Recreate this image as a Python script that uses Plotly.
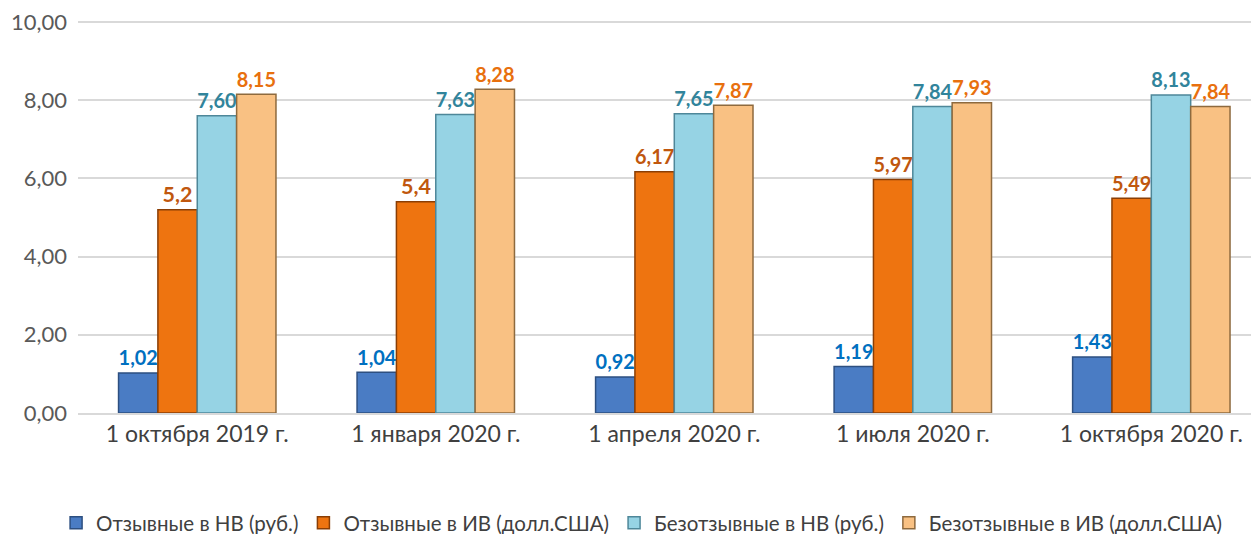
import plotly.graph_objects as go

categories = ["1 октября 2019 г.", "1 января 2020 г.", "1 апреля 2020 г.", "1 июля 2020 г.", "1 октября 2020 г."]
series_names = ["Отзывные в НВ (руб.)", "Отзывные в ИВ (долл.США)", "Безотзывные в НВ (руб.)", "Безотзывные в ИВ (долл.США)"]
otz_nv = [1.02, 1.04, 0.92, 1.19, 1.43]
otz_iv = [5.2, 5.4, 6.17, 5.97, 5.49]
bez_nv = [7.60, 7.63, 7.65, 7.84, 8.13]
bez_iv = [8.15, 8.28, 7.87, 7.93, 7.84]
labels_otz_nv = ["1,02", "1,04", "0,92", "1,19", "1,43"]
labels_otz_iv = ["5,2", "5,4", "6,17", "5,97", "5,49"]
labels_bez_nv = ["7,60", "7,63", "7,65", "7,84", "8,13"]
labels_bez_iv = ["8,15", "8,28", "7,87", "7,93", "7,84"]
y_ticks = [0, 2, 4, 6, 8, 10]
y_tick_labels = ["0,00", "2,00", "4,00", "6,00", "8,00", "10,00"]

series = [otz_nv, otz_iv, bez_nv, bez_iv]
labels = [labels_otz_nv, labels_otz_iv, labels_bez_nv, labels_bez_iv]
fill_colors = ["#4A7CC4", "#EE7410", "#96D3E4", "#F9C183"]
edge_colors = ["#2D4F80", "#8A3E05", "#4E8799", "#8E6A3E"]
label_colors = ["#0070C0", "#C0570E", "#31849B", "#E8700E"]

fig = go.Figure()
for name, vals, lab, fc, ec, lc in zip(series_names, series, labels, fill_colors, edge_colors, label_colors):
    fig.add_trace(go.Bar(
        x=categories, y=vals, name=name,
        text=lab, textposition="outside", cliponaxis=False,
        textfont=dict(family="Lato", size=21.5, color=lc, weight="bold"),
        marker=dict(color=fc, line=dict(color=ec, width=1.5)),
    ))

fig.update_layout(
    width=1259, height=534,
    paper_bgcolor="white", plot_bgcolor="white",
    margin=dict(l=70, r=0, t=10, b=129, autoexpand=False),
    barmode="group", bargap=0.34, bargroupgap=0,
    font=dict(family="Lato", color="#595959"),
    showlegend=True,
    legend=dict(orientation="h", x=0.474, xanchor="center", y=-0.278, yanchor="middle",
                font=dict(size=20.5, color="#404040"), itemwidth=30, traceorder="normal"),
)
fig.update_xaxes(showgrid=False, showline=True, linecolor="#d9d9d9", linewidth=1.5,
                 tickfont=dict(size=23, color="#404040"), ticks="", range=[-0.5, 4.485],
                 automargin=False)
fig.update_yaxes(range=[0, 10.1], tickmode="array", tickvals=y_ticks, ticktext=y_tick_labels,
                 showgrid=True, gridcolor="#d9d9d9", ticklabeloverflow="allow",
                 gridwidth=1.5, zeroline=False, tickfont=dict(size=22, color="#595959"), ticks="",
                 automargin=False, ticklabelstandoff=10)

fig.write_html("out.html")
